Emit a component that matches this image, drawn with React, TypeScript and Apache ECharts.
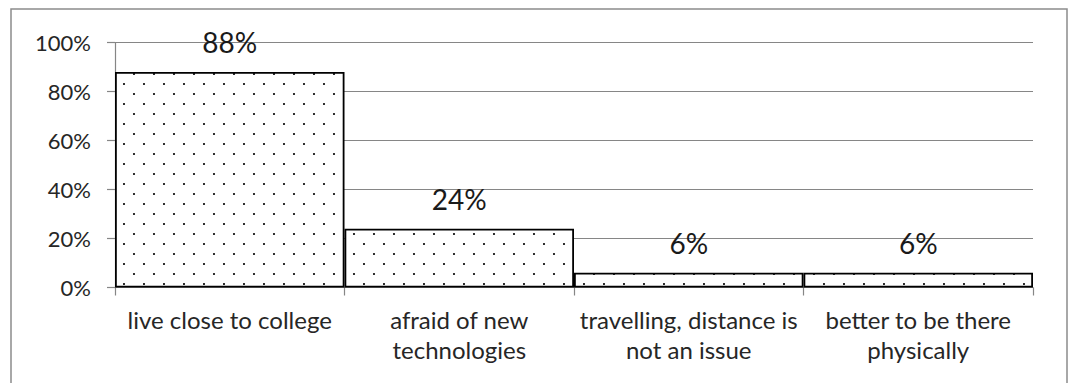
import React, { useEffect, useRef } from "react";
import * as echarts from "echarts";

// Reasons given (share of respondents, %)
const categories = [
  "live close to college",
  "afraid of new\ntechnologies",
  "travelling, distance is\nnot an issue",
  "better to be there\nphysically",
];
const shares = [88, 24, 6, 6];
const yTicks = { min: 0, max: 100, step: 20 };

const FONT = "Lato";

function makeDotPattern(): HTMLCanvasElement {
  const c = document.createElement("canvas");
  c.width = 20;
  c.height = 20;
  const ctx = c.getContext("2d")!;
  ctx.fillStyle = "#ffffff";
  ctx.fillRect(0, 0, 20, 20);
  ctx.fillStyle = "#000000";
  ctx.beginPath();
  ctx.arc(4, 4, 1.1, 0, Math.PI * 2);
  ctx.arc(14, 14, 1.1, 0, Math.PI * 2);
  ctx.fill();
  return c;
}

export default function App() {
  const ref = useRef<HTMLDivElement>(null);

  useEffect(() => {
    if (!ref.current) return;
    const chart = echarts.init(ref.current, null, { renderer: "svg" });
    const pattern = makeDotPattern();

    chart.setOption({
      animation: false,
      backgroundColor: "#ffffff",
      graphic: [
        {
          type: "rect",
          shape: { x: 11, y: 9, width: 1056, height: 400 },
          style: { fill: "none", stroke: "#8c8c8c", lineWidth: 1.5 },
          silent: true,
        },
      ],
      grid: { left: 115, right: 36, top: 42.5, bottom: 95.5 },
      xAxis: {
        type: "category",
        data: categories,
        axisLine: { show: true, lineStyle: { color: "#868686", width: 1.2 } },
        axisTick: { show: true, length: 8, lineStyle: { color: "#868686", width: 1.2 } },
        axisLabel: {
          interval: 0,
          margin: 17,
          color: "#262626",
          fontFamily: FONT,
          fontSize: 24,
          lineHeight: 30,
        },
      },
      yAxis: {
        type: "value",
        min: yTicks.min,
        max: yTicks.max,
        interval: yTicks.step,
        axisLine: { show: true, lineStyle: { color: "#868686", width: 1.2 } },
        axisTick: { show: true, length: 8, lineStyle: { color: "#868686", width: 1.2 } },
        splitLine: { show: true, lineStyle: { color: "#868686", width: 1.2 } },
        axisLabel: {
          margin: 24,
          color: "#262626",
          fontFamily: FONT,
          fontSize: 22,
          formatter: "{value}%",
        },
      },
      series: [
        {
          type: "bar",
          data: shares,
          barCategoryGap: 0,
          itemStyle: {
            color: {
              image: pattern,
              repeat: "repeat",
              imageWidth: 20,
              imageHeight: 20,
            } as any,
            borderColor: "#000000",
            borderWidth: 1.8,
          },
          label: {
            show: true,
            position: "top",
            distance: 16,
            formatter: "{c}%",
            color: "#1a1a1a",
            fontFamily: FONT,
            fontSize: 28,
          },
        },
      ],
    });

    return () => chart.dispose();
  }, []);

  return (
    <div
      ref={ref}
      style={{ position: "fixed", left: 0, top: 0, width: 1069, height: 383 }}
    />
  );
}
